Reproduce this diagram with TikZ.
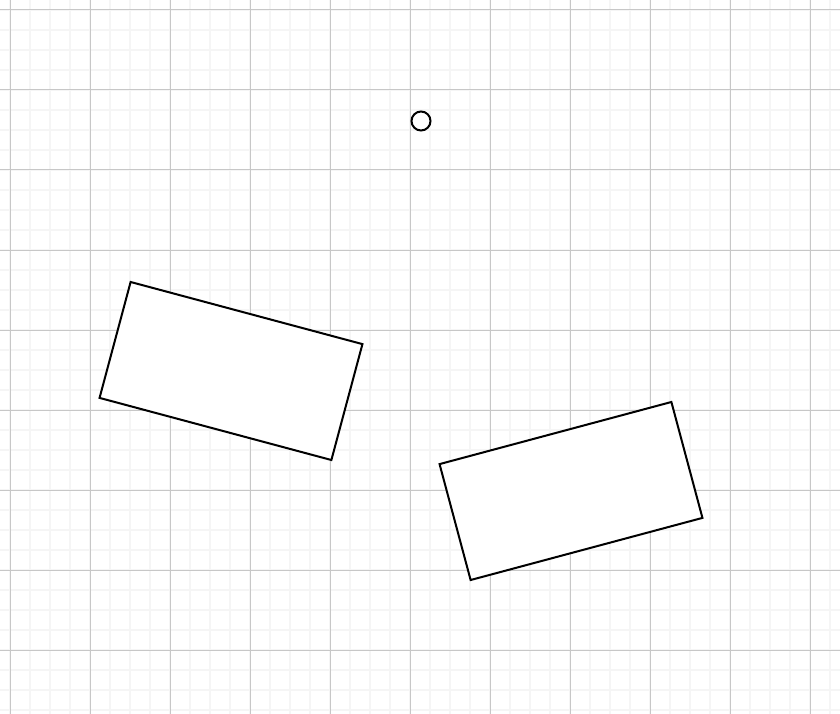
\documentclass[tikz,border=0pt]{standalone}
\begin{document}
\begin{tikzpicture}[x=1pt,y=-1pt,
  minorline/.style={draw=black!4,line width=2pt},
  majorline/.style={draw=black!22,line width=1pt},
  box/.style={draw=black,line width=2pt,fill=white,minimum width=240pt,minimum height=120pt,inner sep=0pt,shape=rectangle},
  dot/.style={draw=black,line width=2pt,fill=white,circle,minimum size=19pt,inner sep=0pt}]
\useasboundingbox (0,0) rectangle (840,714);
\fill[white] (0,0) rectangle (840,714);
\foreach \i in {10,30,...,830} \draw[minorline] (\i,0) -- (\i,714);
\foreach \j in {10,30,...,710} \draw[minorline] (0,\j) -- (840,\j);
\foreach \i in {10,90,...,810} \draw[majorline] (\i,0) -- (\i,714);
\foreach \j in {10,90,...,650} \draw[majorline] (0,\j) -- (840,\j);
\node[dot] (c) at (421,121) {};
\node[box,rotate=-15] (r1) at (231,371) {};
\node[box,rotate=15] (r2) at (571,491) {};
\end{tikzpicture}
\end{document}
